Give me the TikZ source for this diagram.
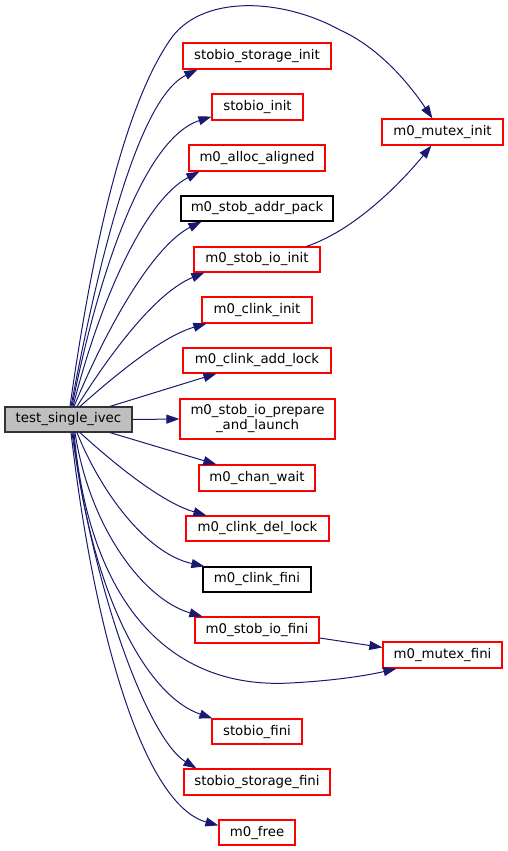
\documentclass[tikz,border=0pt]{standalone}
\usepackage{fontspec}
\setmainfont{DejaVu Sans}
\usetikzlibrary{arrows.meta}
\definecolor{edgeblue}{HTML}{191970}
\definecolor{mainfill}{HTML}{BFBFBF}
\tikzset{
  fn/.style={draw=red, fill=white, line width=1.2pt, inner sep=0pt, align=center,
    font=\fontsize{13.33}{15}\selectfont},
  fnblack/.style={fn, draw=black},
  fnmain/.style={fn, draw=black!80, fill=mainfill},
  call/.style={draw=edgeblue, line width=1pt, -{Triangle[length=13pt,width=9pt]}, fill=none},
}
\begin{document}
\begin{tikzpicture}[x=1pt,y=-1pt]
\useasboundingbox (0,0) rectangle (508,851);
% nodes
\node[fnmain, minimum width=127pt, minimum height=25pt] (main) at (68.5,419.5) {test\_single\_ivec};
\node[fn, minimum width=148pt, minimum height=26pt] (ssi) at (257,56) {stobio\_storage\_init};
\node[fn, minimum width=91pt, minimum height=26pt] (si) at (257.5,107) {stobio\_init};
\node[fn, minimum width=136pt, minimum height=26pt] (maa) at (257,158) {m0\_alloc\_aligned};
\node[fnblack, minimum width=152pt, minimum height=25pt] (sap) at (257,208.5) {m0\_stob\_addr\_pack};
\node[fn, minimum width=126pt, minimum height=25pt] (sii) at (257,259.5) {m0\_stob\_io\_init};
\node[fn, minimum width=121pt, minimum height=26pt] (mmi) at (442.5,132) {m0\_mutex\_init};
\node[fn, minimum width=110pt, minimum height=26pt] (ci) at (257,310) {m0\_clink\_init};
\node[fn, minimum width=148pt, minimum height=25pt] (cal) at (257,360.5) {m0\_clink\_add\_lock};
\node[fn, minimum width=155pt, minimum height=40pt] (pal) at (257.5,419) {m0\_stob\_io\_prepare\\\_and\_launch};
\node[fn, minimum width=116pt, minimum height=26pt] (cw) at (257,478) {m0\_chan\_wait};
\node[fn, minimum width=143pt, minimum height=25pt] (cdl) at (257.5,528.5) {m0\_clink\_del\_lock};
\node[fnblack, minimum width=108pt, minimum height=25pt] (cf) at (257,579.5) {m0\_clink\_fini};
\node[fn, minimum width=124pt, minimum height=26pt] (sif) at (257,630) {m0\_stob\_io\_fini};
\node[fn, minimum width=119pt, minimum height=26pt] (mmf) at (442.5,655) {m0\_mutex\_fini};
\node[fn, minimum width=90pt, minimum height=25pt] (sf) at (257,731.5) {stobio\_fini};
\node[fn, minimum width=146pt, minimum height=26pt] (ssf) at (257,782) {stobio\_storage\_fini};
\node[fn, minimum width=76pt, minimum height=25pt] (mf) at (257,832.5) {m0\_free};
% upward edges
\draw[call] ([xshift=1.5pt]main.north) .. controls (85,300) and (115,120) .. (170,40)
   .. controls (200,-5) and (280,-3) .. (340,30)
   .. controls (380,48) and (410,85) .. ([xshift=51pt]mmi.north west);
\draw[call] ([xshift=2.5pt]main.north) .. controls (95,280) and (135,100) .. ([xshift=15pt]ssi.south west);
\draw[call] ([xshift=3.5pt]main.north) .. controls (95,290) and (140,140) .. ([yshift=4pt]si.south west);
\draw[call] ([xshift=4.5pt]main.north) .. controls (100,300) and (145,200) .. ([xshift=11pt]maa.south west);
\draw[call] ([xshift=5.5pt]main.north) .. controls (110,320) and (155,245) .. ([xshift=21pt]sap.south west);
\draw[call] ([xshift=8.5pt]main.north) .. controls (100,370) and (150,295) .. ([xshift=11pt]sii.south west);
\draw[call] ([xshift=11.5pt]main.north) .. controls (110,380) and (160,337) .. ([xshift=5pt]ci.south west);
\draw[call] ([xshift=41.5pt]main.north) -- ([xshift=34pt]cal.south west);
\draw[call] (main.east) -- (pal.west);
% downward edges
\draw[call] ([xshift=41.5pt]main.south) -- ([xshift=18pt]cw.north west);
\draw[call] ([xshift=11.5pt]main.south) .. controls (110,460) and (160,502) .. ([xshift=21pt]cdl.north west);
\draw[call] ([xshift=8.5pt]main.south) .. controls (100,490) and (145,553) .. ([xshift=2pt]cf.north west);
\draw[call] ([xshift=6.5pt]main.south) .. controls (90,530) and (145,600) .. ([xshift=8pt]sif.north west);
\draw[call] ([xshift=5.5pt]main.south) .. controls (88,590) and (160,690) .. (290,683)
   .. controls (330,681) and (365,676) .. ([xshift=14pt]mmf.south west);
\draw[call] ([xshift=4.5pt]main.south) .. controls (90,590) and (145,695) .. ([xshift=1pt]sf.north west);
\draw[call] ([xshift=3.5pt]main.south) .. controls (95,600) and (150,740) .. ([xshift=13pt]ssf.north west);
\draw[call] ([xshift=2.5pt]main.south) .. controls (95,640) and (145,805) .. ([yshift=-6pt]mf.north west);
% secondary edges
\draw[call] ([xshift=113pt]sii.north west) .. controls (350,232) and (395,190) .. ([xshift=50pt]mmi.south west);
\draw[call] ([yshift=-8pt]sif.east) -- ([yshift=-6pt]mmf.north west);
\end{tikzpicture}
\end{document}
